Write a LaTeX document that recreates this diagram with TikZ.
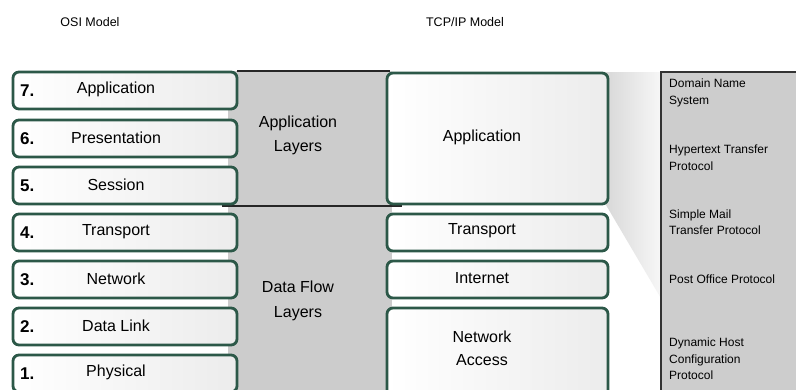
\documentclass[tikz,border=0pt]{standalone}
\usepackage{fontspec}
\setmainfont{Liberation Sans}
\definecolor{boxgreen}{RGB}{44,88,72}
\definecolor{bandgray}{RGB}{204,204,204}
\definecolor{panelgray}{RGB}{205,205,205}
\begin{document}
\begin{tikzpicture}[x=1pt,y=-1pt,
  layerbox/.style={draw=boxgreen, line width=2.8pt, rounded corners=6pt,
    left color=white, right color=gray!15, inner sep=0pt},
  num/.style={font=\fontsize{17}{17}\selectfont\bfseries, anchor=west, inner sep=0pt},
  lbl/.style={font=\fontsize{16}{24}\selectfont, align=center, inner sep=0pt},
  proto/.style={font=\fontsize{12}{16.5}\selectfont, anchor=west, align=left, inner sep=0pt},
  title/.style={font=\fontsize{12.5}{14}\selectfont, inner sep=0pt}]
\useasboundingbox (0,0) rectangle (796,389);
\fill[white] (0,0) rectangle (796,389);

% titles
\node[title] (osititle) at (90,22) {OSI Model};
\node[title] (tcptitle) at (465,22) {TCP/IP Model};

% grey band between the two stacks
\fill[bandgray] (228,71) rectangle (392,392);
\draw[line width=1.1pt, black!85] (237,71) -- (390,71);
\draw[line width=1.1pt, black!85] (222,206) -- (402,206);

% zoom-out wedge to the protocol panel
\shade[left color=gray!30, right color=gray!6]
  (606,72) -- (662,72) -- (662,300) -- (606,205) -- cycle;

% protocol panel
\fill[panelgray] (661,72) rectangle (800,395);
\draw[line width=1.1pt, black!80] (661,395) -- (661,72) -- (800,72);

% OSI layers
\foreach \n/\t/\y in {7/Application/90.5, 6/Presentation/138.5, 5/Session/185.5,
                      4/Transport/232.5, 3/Network/279.5, 2/Data Link/326.5, 1/Physical/373.5}{
  \node[layerbox, minimum width=224pt, minimum height=37pt] (osi\n) at (125,\y) {};
  \node[num] (osinum\n) at (20,\y) {\n.};
  \node[lbl] (osilbl\n) at (116,\y-1) {\t};
}

% group labels
\node[lbl] (applayers) at (298,135) {Application\\Layers};
\node[lbl, font=\fontsize{16}{25}\selectfont] (flowlayers) at (298,300.5) {Data Flow\\Layers};

% TCP/IP layers
\node[layerbox, minimum width=221pt, minimum height=131pt] (tcpapp) at (497.5,138.5) {};
\node[lbl] (tcpapplbl) at (482,137) {Application};
\node[layerbox, minimum width=221pt, minimum height=37pt] (tcptrans) at (497.5,232.5) {};
\node[lbl] (tcptranslbl) at (482,231) {Transport};
\node[layerbox, minimum width=221pt, minimum height=37pt] (tcpnet) at (497.5,279.5) {};
\node[lbl] (tcpnetlbl) at (482,278) {Internet};
\node[layerbox, minimum width=221pt, minimum height=90pt] (tcpacc) at (497.5,353) {};
\node[lbl, font=\fontsize{16}{23}\selectfont] (tcpacclbl) at (482,348.5) {Network\\Access};

% protocols
\node[proto] (dns) at (669,93) {Domain Name\\System};
\node[proto] (http) at (669,157.5) {Hypertext Transfer\\Protocol};
\node[proto] (smtp) at (669,222) {Simple Mail\\Transfer Protocol};
\node[proto] (pop) at (669,279) {Post Office Protocol};
\node[proto] (dhcp) at (669,359) {Dynamic Host\\Configuration\\Protocol};
\end{tikzpicture}
\end{document}
